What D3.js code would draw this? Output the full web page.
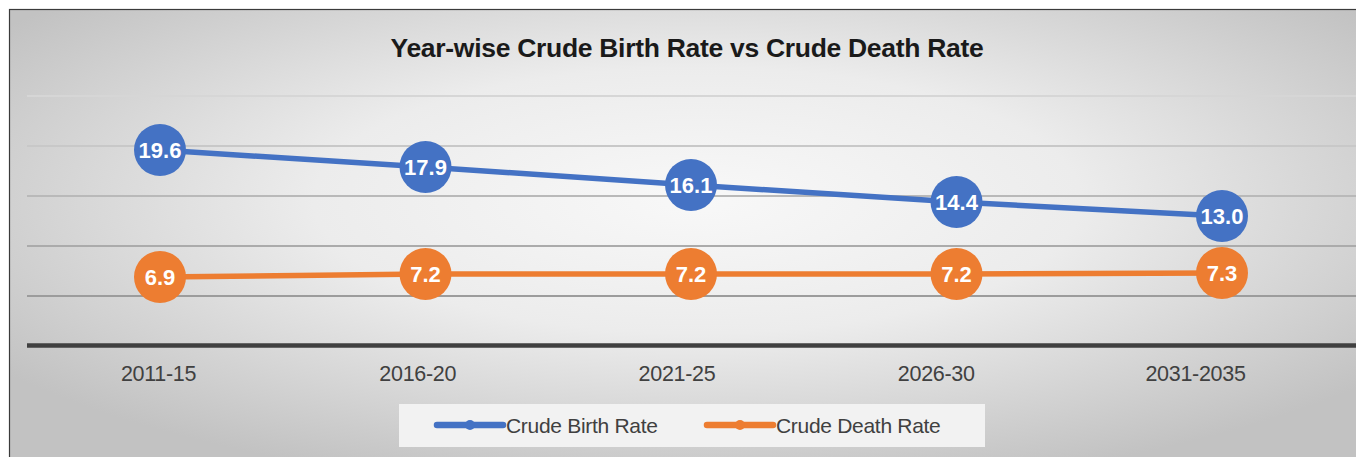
<!DOCTYPE html>
<html>
<head>
<meta charset="utf-8">
<script src="https://cdn.jsdelivr.net/npm/d3@7"></script>
<style>
  body { margin: 0; background: #ffffff; }
  svg { display: block; font-family: 'Liberation Sans', Arial, sans-serif; }
</style>
</head>
<body>
<div id="chart"></div>
<script>
// chart data
const periods = ['2011-15', '2016-20', '2021-25', '2026-30', '2031-2035'];
const birthRate = [19.6, 17.9, 16.1, 14.4, 13.0];
const deathRate = [6.9, 7.2, 7.2, 7.2, 7.3];
const yTicks = [5, 10, 15, 20, 25];
const seriesNames = ['Crude Birth Rate', 'Crude Death Rate'];
const seriesColors = ['#4472C4', '#ED7D31'];

const width = 1356;
const height = 457;

const svg = d3.select('#chart')
  .append('svg')
  .attr('width', width)
  .attr('height', height);

// background gradient like the office chart area
const defs = svg.append('defs');
const grad = defs.append('radialGradient')
  .attr('id', 'bg')
  .attr('cx', '50%')
  .attr('cy', '40%')
  .attr('r', '62%');
grad.append('stop').attr('offset', '0%').attr('stop-color', '#f8f8f8');
grad.append('stop').attr('offset', '45%').attr('stop-color', '#ececec');
grad.append('stop').attr('offset', '100%').attr('stop-color', '#c2c2c2');

svg.append('rect')
  .attr('x', 9.5)
  .attr('y', 9.5)
  .attr('width', width + 20)
  .attr('height', height + 20)
  .attr('fill', 'url(#bg)')
  .attr('stroke', '#3a3a3a')
  .attr('stroke-width', 1.2);

// scales
const x = d3.scalePoint()
  .domain(periods)
  .range([160, 1222]);

// tick labels sit slightly left of the markers in the source
const xLabel = d3.scalePoint()
  .domain(periods)
  .range([158, 1195]);

const y = d3.scaleLinear()
  .domain([0, 25])
  .range([346, 96]);

const gridShade = d3.scaleLinear()
  .domain([25, 5])
  .range(['#d6d6d6', '#9c9c9c']);

// gridlines
svg.append('g')
  .selectAll('line')
  .data(yTicks)
  .enter()
  .append('line')
  .attr('x1', 27)
  .attr('x2', width)
  .attr('y1', d => y(d))
  .attr('y2', d => y(d))
  .attr('stroke', d => gridShade(d))
  .attr('stroke-width', 2);

// x axis line
svg.append('line')
  .attr('x1', 27)
  .attr('x2', width)
  .attr('y1', y(0) - 0.5)
  .attr('y2', y(0) - 0.5)
  .attr('stroke', '#404040')
  .attr('stroke-width', 4.5);

// x axis labels
const xAxis = svg.append('g')
  .attr('transform', `translate(0, ${y(0)})`)
  .call(d3.axisBottom(xLabel).tickSize(0).tickPadding(20));
xAxis.select('.domain').remove();
xAxis.selectAll('text')
  .attr('fill', '#404040')
  .style('font-size', '21.5px')
  .style('letter-spacing', '-0.3px')
  .style('font-family', "'Liberation Sans', Arial, sans-serif");

// title
svg.append('text')
  .attr('x', 687)
  .attr('y', 57)
  .attr('text-anchor', 'middle')
  .attr('font-weight', 'bold')
  .style('font-size', '26.5px')
  .style('letter-spacing', '-0.3px')
  .attr('fill', '#1a1a1a')
  .text('Year-wise Crude Birth Rate vs Crude Death Rate');

// lines and markers
const line = d3.line()
  .x((d, i) => x(periods[i]))
  .y(d => y(d));

[birthRate, deathRate].forEach((values, s) => {
  svg.append('path')
    .datum(values)
    .attr('fill', 'none')
    .attr('stroke', seriesColors[s])
    .attr('stroke-width', 5.5)
    .attr('stroke-linejoin', 'round')
    .attr('d', line);

  const pts = svg.append('g')
    .selectAll('g')
    .data(values)
    .enter()
    .append('g')
    .attr('transform', (d, i) => `translate(${x(periods[i])}, ${y(d)})`);

  pts.append('circle')
    .attr('r', 26)
    .attr('fill', seriesColors[s]);

  pts.append('text')
    .attr('text-anchor', 'middle')
    .attr('dy', '0.36em')
    .attr('fill', '#ffffff')
    .attr('font-weight', 'bold')
    .style('font-size', '22px')
    .text(d => d.toFixed(1));
});

// legend
const legend = svg.append('g');
legend.append('rect')
  .attr('x', 399)
  .attr('y', 404)
  .attr('width', 586)
  .attr('height', 43)
  .attr('fill', '#f2f2f2');

const legendX = [437, 707];
seriesNames.forEach((name, s) => {
  const g = legend.append('g')
    .attr('transform', `translate(${legendX[s]}, 425)`);
  g.append('line')
    .attr('x1', 0)
    .attr('x2', 66)
    .attr('stroke', seriesColors[s])
    .attr('stroke-width', 6.5)
    .attr('stroke-linecap', 'round');
  g.append('circle')
    .attr('cx', 33)
    .attr('r', 5)
    .attr('fill', seriesColors[s]);
  g.append('text')
    .attr('x', 69)
    .attr('dy', '0.36em')
    .attr('fill', '#404040')
    .style('font-size', '21px')
    .style('letter-spacing', '-0.3px')
    .text(name);
});
</script>
</body>
</html>
